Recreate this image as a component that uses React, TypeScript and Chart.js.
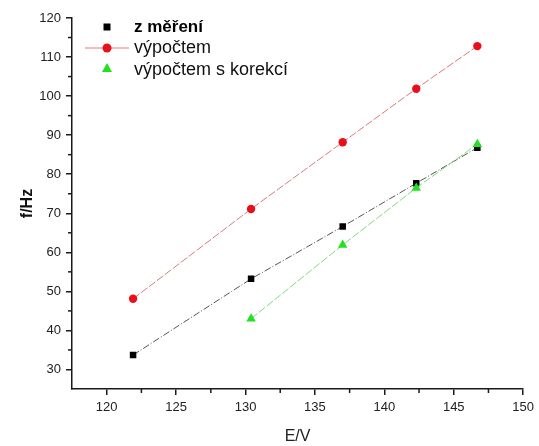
import React, { useEffect, useRef } from "react";
import { Chart, registerables } from "chart.js";

Chart.register(...registerables);

// ---- data ----
const voltage = [121.9, 130.4, 137.0, 142.3, 146.7];
const measured = [33.7, 53.2, 66.6, 77.7, 86.8];
const calculated = [48.1, 71.1, 88.2, 101.9, 112.8];
const corrected: (number | null)[] = [null, 43.0, 61.9, 76.5, 87.7];
const seriesNames = ["z měření", "výpočtem", "výpočtem s korekcí"];
const xTitle = "E/V";
const yTitle = "f/Hz";
const xMajorTicks = [120, 125, 130, 135, 140, 145, 150];
const xMinorTicks = [122.5, 127.5, 132.5, 137.5, 142.5, 147.5];
const yMajorTicks = [30, 40, 50, 60, 70, 80, 90, 100, 110, 120];
const yMinorTicks = [35, 45, 55, 65, 75, 85, 95, 105, 115];

const FONT = "Arial, 'Liberation Sans', sans-serif";
const AXIS = "#1a1a1a";

function toPoints(ys: (number | null)[]) {
  return voltage
    .map((x, i) => ({ x, y: ys[i] }))
    .filter((p) => p.y !== null) as { x: number; y: number }[];
}

const minorTickPlugin = {
  id: "minorTicks",
  afterDraw(chart: any) {
    const ctx = chart.ctx;
    const xs = chart.scales.x;
    const ys = chart.scales.y;
    ctx.save();
    ctx.strokeStyle = AXIS;
    ctx.lineWidth = 1.5;
    xMinorTicks.forEach((v) => {
      const px = xs.getPixelForValue(v);
      ctx.beginPath();
      ctx.moveTo(px, xs.top);
      ctx.lineTo(px, xs.top + 4);
      ctx.stroke();
    });
    yMinorTicks.forEach((v) => {
      const py = ys.getPixelForValue(v);
      ctx.beginPath();
      ctx.moveTo(ys.right, py);
      ctx.lineTo(ys.right - 4, py);
      ctx.stroke();
    });
    ctx.restore();
  },
};

const legendPlugin = {
  id: "insideLegend",
  afterDraw(chart: any) {
    const ctx = chart.ctx;
    ctx.save();
    const textX = 134;
    const markerX = 107;
    const markerY = [27, 48, 68.5];
    const baseY = [32, 53, 75];
    // square
    ctx.fillStyle = "#000";
    ctx.fillRect(markerX - 3.5, markerY[0] - 3.5, 7, 7);
    // red line + circle
    ctx.strokeStyle = "#e07878";
    ctx.lineWidth = 1;
    ctx.beginPath();
    ctx.moveTo(85, markerY[1]);
    ctx.lineTo(129, markerY[1]);
    ctx.stroke();
    ctx.fillStyle = "#e8101a";
    ctx.beginPath();
    ctx.arc(markerX, markerY[1], 4.5, 0, Math.PI * 2);
    ctx.fill();
    // triangle
    ctx.fillStyle = "#22e022";
    ctx.beginPath();
    ctx.moveTo(markerX, markerY[2] - 5.5);
    ctx.lineTo(markerX + 5, markerY[2] + 3.5);
    ctx.lineTo(markerX - 5, markerY[2] + 3.5);
    ctx.closePath();
    ctx.fill();
    ctx.fillStyle = "#000";
    ctx.textBaseline = "alphabetic";
    ctx.textAlign = "left";
    ctx.font = `bold 17px ${FONT}`;
    ctx.fillText(seriesNames[0], textX, baseY[0]);
    ctx.font = `18px ${FONT}`;
    ctx.fillStyle = "#111";
    ctx.fillText(seriesNames[1], textX, baseY[1]);
    ctx.fillText(seriesNames[2], textX, baseY[2]);
    ctx.restore();
  },
};

export default function App() {
  const ref = useRef<HTMLCanvasElement | null>(null);

  useEffect(() => {
    document.body.style.margin = "0";
    if (!ref.current) return;
    const chart = new Chart(ref.current, {
      type: "scatter",
      data: {
        datasets: [
          {
            label: seriesNames[0],
            data: toPoints(measured),
            showLine: true,
            borderColor: "#555",
            borderWidth: 1,
            borderDash: [7, 2, 1, 2],
            pointStyle: "rect",
            pointRadius: 4.6,
            pointBackgroundColor: "#000",
            pointBorderColor: "#000",
            pointBorderWidth: 0,
            order: 2,
          },
          {
            label: seriesNames[1],
            data: toPoints(calculated),
            showLine: true,
            borderColor: "#d87a7a",
            borderWidth: 1,
            borderDash: [8, 2],
            pointStyle: "circle",
            pointRadius: 4.2,
            pointBackgroundColor: "#e8101a",
            pointBorderColor: "#e8101a",
            pointBorderWidth: 0,
            order: 1,
          },
          {
            label: seriesNames[2],
            data: toPoints(corrected),
            showLine: true,
            borderColor: "#7ddc7d",
            borderWidth: 1,
            borderDash: [8, 2],
            pointStyle: "triangle",
            pointRadius: 5.5,
            pointBackgroundColor: "#22e022",
            pointBorderColor: "#22e022",
            pointBorderWidth: 0,
            order: 0,
          },
        ],
      },
      options: {
        responsive: false,
        animation: false,
        layout: { padding: { top: 18, right: 13, left: 0, bottom: 0 } },
        plugins: {
          legend: { display: false },
          tooltip: { enabled: false },
        },
        scales: {
          x: {
            type: "linear",
            min: 117.5,
            max: 150,
            afterBuildTicks: (s: any) => {
              s.ticks = xMajorTicks.map((v) => ({ value: v }));
            },
            afterFit: (s: any) => {
              s.height = 57;
            },
            ticks: {
              color: "#222",
              font: { family: FONT, size: 13 },
              padding: 5,
              maxRotation: 0,
              autoSkip: false,
            },
            grid: {
              drawOnChartArea: false,
              drawTicks: true,
              tickLength: 6,
              color: AXIS,
              lineWidth: 1.5,
            },
            border: { display: true, color: AXIS, width: 1.5 },
            title: {
              display: true,
              text: xTitle,
              color: "#222",
              font: { family: FONT, size: 16 },
              padding: { top: 2, bottom: 0 },
            },
          },
          y: {
            type: "linear",
            min: 25,
            max: 120,
            afterBuildTicks: (s: any) => {
              s.ticks = yMajorTicks.map((v) => ({ value: v }));
            },
            afterFit: (s: any) => {
              s.width = 72;
            },
            ticks: {
              color: "#222",
              font: { family: FONT, size: 13 },
              padding: 5,
              autoSkip: false,
            },
            grid: {
              drawOnChartArea: false,
              drawTicks: true,
              tickLength: 6,
              color: AXIS,
              lineWidth: 1.5,
            },
            border: { display: true, color: AXIS, width: 1.5 },
            title: {
              display: true,
              text: yTitle,
              color: "#111",
              font: { family: FONT, size: 16, weight: "bold" },
              padding: { top: 18, bottom: 0 },
            },
          },
        },
      },
      plugins: [minorTickPlugin, legendPlugin],
    } as any);
    return () => chart.destroy();
  }, []);

  return <canvas ref={ref} width={539} height={446} style={{ display: "block" }} />;
}
